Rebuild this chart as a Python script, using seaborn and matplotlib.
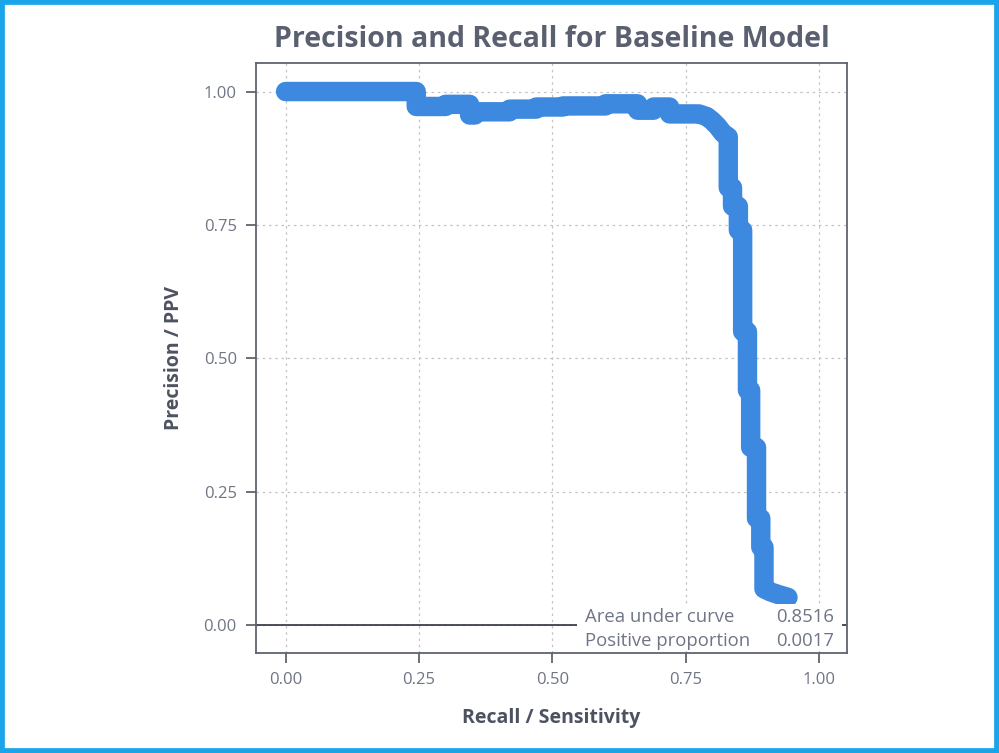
import matplotlib
matplotlib.use("Agg")
import matplotlib.pyplot as plt
from matplotlib.patches import Rectangle
import seaborn as sns
import pandas as pd

# ---- data ----
recall = [0.000, 0.245, 0.245, 0.300, 0.300, 0.345, 0.345, 0.355, 0.355, 0.420, 0.420,
          0.470, 0.470, 0.520, 0.520, 0.600, 0.600, 0.660, 0.660, 0.690, 0.690, 0.720,
          0.720, 0.775, 0.790, 0.800, 0.810, 0.820, 0.830, 0.830, 0.838, 0.838, 0.849,
          0.849, 0.857, 0.857, 0.866, 0.866, 0.872, 0.872, 0.883, 0.883, 0.891, 0.891,
          0.897, 0.897, 0.910, 0.925, 0.942]
precision = [1.000, 1.000, 0.972, 0.972, 0.976, 0.976, 0.956, 0.956, 0.962, 0.962, 0.967,
             0.967, 0.971, 0.971, 0.973, 0.973, 0.977, 0.977, 0.965, 0.965, 0.971, 0.971,
             0.958, 0.958, 0.953, 0.945, 0.935, 0.922, 0.915, 0.820, 0.820, 0.785, 0.785,
             0.740, 0.740, 0.550, 0.550, 0.440, 0.440, 0.333, 0.333, 0.200, 0.200, 0.146,
             0.146, 0.068, 0.062, 0.057, 0.052]
xticks = [0.00, 0.25, 0.50, 0.75, 1.00]
yticks = [0.00, 0.25, 0.50, 0.75, 1.00]
stat_labels = ["Area under curve", "Positive proportion"]
stat_values = ["0.8516", "0.0017"]

title = "Precision and Recall for Baseline Model"
xlabel = "Recall / Sensitivity"
ylabel = "Precision / PPV"

df = pd.DataFrame({"recall": recall, "precision": precision})

sns.set_theme(style="whitegrid")
plt.rcParams["font.family"] = ["Open Sans", "DejaVu Sans"]

TEXT = "#6f7585"
DARK = "#4d5261"
SPINE = "#5f636e"
BLUE = "#3d89df"

fig = plt.figure(figsize=(9.99, 7.53), dpi=100)
ax = fig.add_axes([0.2565, 0.133, 0.591, 0.783])

ax.axhline(0, color="#3c404a", lw=1.3, zorder=1.5)
sns.lineplot(data=df, x="recall", y="precision", sort=False, estimator=None,
             color=BLUE, lw=14, solid_capstyle="round", solid_joinstyle="round",
             ax=ax, zorder=3)

ax.set_xlim(-0.055, 1.052)
ax.set_ylim(-0.052, 1.053)
ax.set_xticks(xticks)
ax.set_yticks(yticks)
ax.set_xticklabels([f"{v:.2f}" for v in xticks])
ax.set_yticklabels([f"{v:.2f}" for v in yticks])

ax.grid(True, color="#c4c4c4", linestyle=(0, (2, 3)), lw=0.9)
ax.set_axisbelow(True)
for s in ax.spines.values():
    s.set_color(SPINE)
    s.set_linewidth(1.3)
    s.set_visible(True)
ax.set_facecolor("white")

ax.tick_params(axis="both", which="major", direction="out", length=7, width=1.3,
               color=SPINE, labelcolor=TEXT, labelsize=12, pad=7,
               bottom=True, left=True)

ax.set_xlabel(xlabel, fontsize=14, fontweight="bold", color=DARK, labelpad=14)
ax.set_ylabel(ylabel, fontsize=14, fontweight="bold", color=DARK, labelpad=14)
ax.set_title(title, fontsize=20.5, fontweight="bold", color="#5b6070", pad=12)

# stats box
ax.add_patch(Rectangle((0.543, 0.005), 0.449, 0.078, transform=ax.transAxes,
                       facecolor="white", edgecolor="none", zorder=4))
ys = [0.060, 0.020]
for lab, val, yy in zip(stat_labels, stat_values, ys):
    ax.text(0.556, yy, lab, transform=ax.transAxes, fontsize=13.3, color=TEXT,
            ha="left", va="center", zorder=5)
    ax.text(0.978, yy, val, transform=ax.transAxes, fontsize=13.3, color=TEXT,
            ha="right", va="center", zorder=5)

# outer frame
fig.add_artist(Rectangle((0, 0), 1, 1, transform=fig.transFigure, fill=False,
                         edgecolor="#1aa5ea", linewidth=7))

fig.savefig("out.png", dpi=100)
